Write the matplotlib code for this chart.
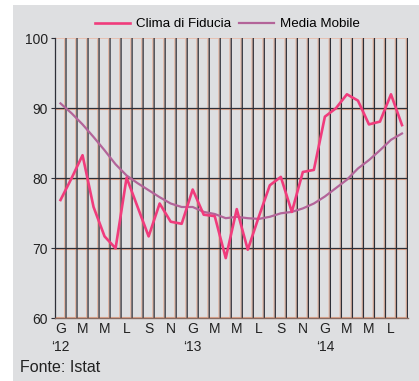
# Clima di fiducia (Istat), gen 2012 - ago 2014, con media mobile
import matplotlib
matplotlib.use("Agg")
import matplotlib.pyplot as plt
from matplotlib.patches import Rectangle
import numpy as np

months = ["G", "F", "M", "A", "M", "G", "L", "A", "S", "O", "N", "D"] * 3
months = months[:32]
years = {0: "\u201812", 12: "\u201813", 24: "\u201814"}

clima = [76.9, 80.0, 83.3, 75.9, 71.7, 70.0, 80.1, 75.9, 71.7, 76.4, 73.8, 73.5,
         78.4, 74.8, 74.6, 68.6, 75.6, 69.8, 74.5, 79.0, 80.2, 75.2, 80.9, 81.2,
         88.8, 90.0, 92.0, 91.1, 87.7, 88.1, 92.0, 87.6]
media = [90.7, 89.3, 87.7, 85.9, 84.0, 82.0, 80.4, 79.3, 78.3, 77.3, 76.4, 75.9,
         75.9, 75.2, 74.9, 74.3, 74.5, 74.3, 74.2, 74.5, 75.0, 75.2, 75.7, 76.4,
         77.4, 78.6, 79.8, 81.4, 82.6, 84.0, 85.5, 86.4]

plt.rcParams["font.family"] = ["Liberation Sans", "DejaVu Sans"]

bg = "#dedfe1"
dark = "#2d2f38"
orange = "#e4ab92"
pink = "#f03c7c"
mauve = "#b36499"

fig = plt.figure(figsize=(4.19, 3.81), dpi=100, facecolor="white")
fig.patches.append(Rectangle((13 / 419, 0), 1, 376 / 381, transform=fig.transFigure,
                             facecolor=bg, edgecolor="none", zorder=-5))
ax = fig.add_axes([55 / 419, 62.7 / 381, 352.5 / 419, 280 / 381])
ax.set_zorder(2)
ax.set_facecolor(bg)

n = len(clima)
x = np.arange(n)
ax.set_xlim(-0.5, n - 0.5)
ax.set_ylim(60, 100)

# griglia doppia: riga scura con ombra arancio (senza snap, per uniformità)
for b in np.arange(-0.5, n, 1.0):
    ax.axvline(b - 0.11, color=orange, lw=0.8, zorder=1, snap=False)
    ax.axvline(b, color=dark, lw=0.9, zorder=2, snap=False)
for v in [70, 80, 90]:
    ax.axhline(v - 0.15, color=orange, lw=0.8, zorder=1)
    ax.axhline(v, color=dark, lw=0.9, zorder=2)
ax.axhline(100, color="#e8bcaa", lw=1.2, zorder=1)
ax.axhline(60.15, color=orange, lw=0.8, zorder=1)

ax.plot(x, media, color=mauve, lw=1.6, zorder=3, label="Media Mobile")
ax.plot(x, clima, color=pink, lw=1.9, zorder=4, label="Clima di Fiducia")

for s in ["top", "right"]:
    ax.spines[s].set_visible(False)
ax.spines["left"].set_color(dark)
ax.spines["bottom"].set_color("#8a6a60")
ax.spines["left"].set_linewidth(0.9)
ax.spines["bottom"].set_linewidth(1.0)

ax.set_yticks([60, 70, 80, 90, 100])
ax.tick_params(axis="y", length=3, width=0.8, color=dark, labelsize=10, pad=2,
               labelcolor="#222222")

ticks = list(range(0, n, 2))
labels = [months[i] + ("\n" + years[i] if i in years else "") for i in ticks]
ax.set_xticks(ticks)
ax.set_xticklabels(labels, fontsize=10, color="#222222", linespacing=1.3)
ax.tick_params(axis="x", length=0, pad=3)
for lab in ax.get_xticklabels():
    lab.set_verticalalignment("top")

h, l = ax.get_legend_handles_labels()
fig.legend(h[::-1], l[::-1], loc="center", bbox_to_anchor=(0.543, 1 - 24 / 381), ncol=2,
           frameon=False, fontsize=9.6, handlelength=2.6, columnspacing=0.6,
           handletextpad=0.45)

fig.text(20 / 419, 13 / 381, "Fonte: Istat", fontsize=11.5, color="#222222",
         va="center", ha="left")

fig.savefig("out.png", dpi=100, facecolor="white")
